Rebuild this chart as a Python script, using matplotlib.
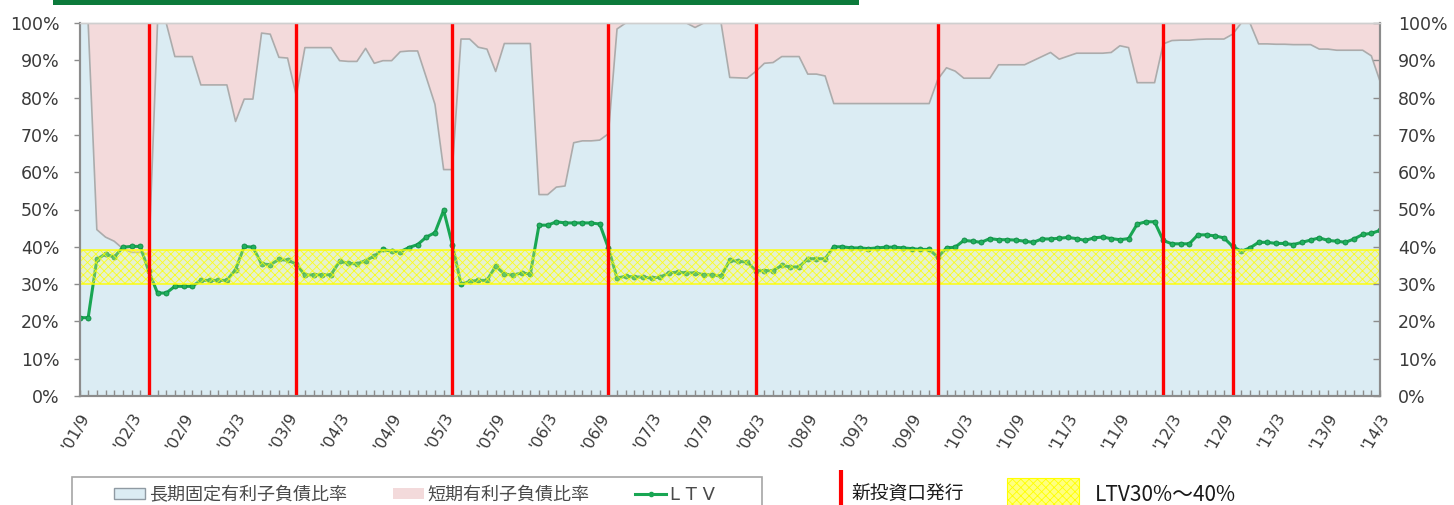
import numpy as np
import matplotlib
matplotlib.use('Agg')
import matplotlib.pyplot as plt
import matplotlib.transforms as mtransforms
from matplotlib.patches import Patch, Rectangle
from matplotlib.lines import Line2D
from matplotlib.ticker import FuncFormatter, MultipleLocator

plt.rcParams['font.family'] = ['DejaVu Sans', 'Noto Sans CJK JP']
plt.rcParams['hatch.linewidth'] = 0.6

# ---- data (monthly, from '01/9 to '14/3) ----
start_year, start_month = 2001, 9

long_ratio = [
    100, 100, 44.6, 42.6, 41.5, 39.5, 38.5, 38.5, 38.0, 100,
    100, 91.0, 91.0, 91.0, 83.4, 83.4, 83.4, 83.4, 73.6, 79.6,
    79.6, 97.3, 97.0, 90.8, 90.6, 80.5, 93.4, 93.4, 93.4, 93.4,
    89.9, 89.7, 89.7, 93.2, 89.2, 89.9, 89.9, 92.3, 92.5, 92.5,
    85.4, 78.2, 60.7, 60.7, 95.7, 95.7, 93.5, 93.0, 87.0, 94.5,
    94.5, 94.5, 94.5, 54.0, 54.0, 56.0, 56.3, 67.9, 68.4, 68.4,
    68.6, 70.3, 98.4, 100, 100, 100, 100, 100, 100, 100,
    100, 98.8, 100, 100, 100, 85.4, 85.3, 85.2, 87.0, 89.2,
    89.4, 91.0, 91.0, 91.0, 86.3, 86.3, 85.8, 78.4, 78.4, 78.4,
    78.4, 78.4, 78.4, 78.4, 78.4, 78.4, 78.4, 78.4, 78.4, 84.9,
    88.0, 87.1, 85.2, 85.2, 85.2, 85.2, 88.8, 88.8, 88.8, 88.8,
    89.9, 91.0, 92.1, 90.3, 91.1, 91.9, 91.9, 91.9, 91.9, 92.1,
    93.9, 93.4, 84.0, 84.0, 84.0, 94.4, 95.3, 95.4, 95.4, 95.6,
    95.7, 95.7, 95.7, 97.0, 100, 100, 94.4, 94.4, 94.3, 94.3,
    94.2, 94.2, 94.2, 93.0, 93.0, 92.7, 92.7, 92.7, 92.7, 91.2,
    84.4,
]

ltv = [
    21.0, 21.0, 36.6, 38.1, 37.2, 39.9, 40.1, 40.1, 33.4, 27.6,
    27.6, 29.4, 29.4, 29.4, 31.0, 31.0, 31.0, 31.0, 33.9, 40.1,
    39.9, 35.4, 35.2, 36.6, 36.4, 35.4, 32.4, 32.5, 32.5, 32.5,
    36.1, 35.6, 35.4, 36.3, 37.5, 39.3, 38.8, 38.7, 39.8, 40.6,
    42.6, 43.8, 49.8, 40.6, 30.0, 30.7, 31.0, 31.0, 34.8, 32.7,
    32.4, 33.0, 32.7, 45.8, 45.8, 46.7, 46.4, 46.4, 46.4, 46.4,
    46.1, 39.7, 31.6, 32.1, 31.9, 31.9, 31.6, 31.9, 33.0, 33.2,
    33.0, 33.0, 32.5, 32.5, 32.1, 36.4, 36.1, 35.9, 33.6, 33.6,
    33.6, 35.0, 34.6, 34.6, 36.8, 36.8, 36.8, 40.0, 40.0, 39.7,
    39.7, 39.5, 39.7, 39.9, 39.9, 39.7, 39.5, 39.3, 39.3, 37.2,
    39.7, 39.9, 41.7, 41.5, 41.2, 42.2, 41.9, 41.9, 41.8, 41.5,
    41.2, 42.1, 42.1, 42.3, 42.5, 42.2, 41.7, 42.4, 42.6, 42.2,
    41.9, 42.2, 46.1, 46.7, 46.7, 41.7, 40.8, 40.8, 40.8, 43.2,
    43.2, 42.9, 42.4, 40.1, 38.8, 39.7, 41.2, 41.2, 40.9, 40.9,
    40.6, 41.2, 41.8, 42.4, 41.7, 41.5, 41.2, 42.1, 43.3, 43.6,
    44.4,
]

tick_labels = ["'01/9", "'02/3", "'02/9", "'03/3", "'03/9", "'04/3", "'04/9",
               "'05/3", "'05/9", "'06/3", "'06/9", "'07/3", "'07/9", "'08/3",
               "'08/9", "'09/3", "'09/9", "'10/3", "'10/9", "'11/3", "'11/9",
               "'12/3", "'12/9", "'13/3", "'13/9", "'14/3"]

issuance_dates = ['2002-05', '2003-10', '2005-04', '2006-10',
                  '2008-03', '2009-12', '2012-02', '2012-10']

ltv_band = [30, 39.2]

series_labels = ['長期固定有利子負債比率', '短期有利子負債比率', 'L T V']
issue_label = '新投資口発行'
band_label = 'LTV30%～40%'

assert len(long_ratio) == len(ltv) == 151


def month_index(s):
    y, m = map(int, s.split('-'))
    return (y - start_year) * 12 + (m - start_month)


# ---- figure ----
W, H = 1454, 505
fig = plt.figure(figsize=(W / 100, H / 100), dpi=100)
fig.patch.set_facecolor('white')
ax = fig.add_axes([79.5 / W, 1 - 396 / H, (1380 - 79.5) / W, (396 - 23) / H])

x = np.arange(len(ltv))
long_arr = np.array(long_ratio)

c_blue = '#dbecf3'
c_pink = '#f3dadb'
c_green = '#19a653'

ax.fill_between(x, 0, long_arr, color=c_blue, lw=0, zorder=1)
ax.fill_between(x, long_arr, 100, color=c_pink, lw=0, zorder=1)
ax.plot(x, long_arr, color='#ababab', lw=1.2, zorder=2)
ax.plot(x, ltv, color=c_green, lw=2.2, marker='o', ms=3.6,
        mfc='#22b060', mec='#0f8a42', mew=0.6, zorder=3)
ax.axhspan(ltv_band[0], ltv_band[1], facecolor=(1, 1, 0.5, 0.30),
           edgecolor=(1, 1, 0, 0.85), hatch='xxxx', lw=1.2, zorder=4)
for s in issuance_dates:
    ax.axvline(month_index(s), color='#ff0000', lw=2.4, zorder=5)

ax.set_xlim(0, len(ltv) - 1)
ax.set_ylim(0, 100)

# x axis
ax.set_xticks(x[::6])
ax.set_xticklabels(tick_labels, rotation=60, ha='right', va='center',
                   rotation_mode='anchor', fontsize=11.5, color='#3a3a3a')
ax.xaxis.set_minor_locator(MultipleLocator(1))
ax.tick_params(axis='x', which='both', direction='in', length=4,
               width=1, color='#8c8c8c', pad=13)
shift = mtransforms.ScaledTranslation(6 / 100, 0, fig.dpi_scale_trans)
for lbl in ax.get_xticklabels():
    lbl.set_transform(lbl.get_transform() + shift)

# y axis left
pct = FuncFormatter(lambda v, p: f'{v:.0f}%')
ax.set_yticks(range(0, 101, 10))
ax.yaxis.set_major_formatter(pct)
ax.tick_params(axis='y', direction='out', length=4, width=1,
               color='#8c8c8c', labelsize=12.5, labelcolor='#3a3a3a', pad=10.4)

# y axis right
ax2 = ax.twinx()
ax2.set_ylim(0, 100)
ax2.set_yticks(range(0, 101, 10))
ax2.yaxis.set_major_formatter(pct)
ax2.tick_params(axis='y', direction='in', length=5, width=1,
                color='#8c8c8c', labelsize=12.5, labelcolor='#3a3a3a', pad=13)

for a in (ax, ax2):
    for side in ('left', 'right', 'bottom'):
        a.spines[side].set_color('#8c8c8c')
        a.spines[side].set_linewidth(1.5)
    a.spines['top'].set_color('#cfcfcf')
    a.spines['top'].set_linewidth(1.0)

# header bar (decoration)
fig.add_artist(Rectangle((53 / W, 1 - 4.5 / H), (859 - 53) / W, 4.5 / H,
                         transform=fig.transFigure, color='#0c7a3b', lw=0))

# legend 1 (framed)
handles1 = [Patch(facecolor=c_blue, edgecolor='#8f9aa3', lw=1),
            Patch(facecolor=c_pink, edgecolor='none'),
            Line2D([], [], color=c_green, lw=2.2, marker='o', ms=3)]
fig.legend(handles1, series_labels, loc='center left',
           bbox_to_anchor=(114 / W, 1 - 495 / H), ncol=3, frameon=False,
           fontsize=13, handlelength=1.72, handleheight=0.6,
           handletextpad=0.2, columnspacing=2.55, borderpad=0,
           borderaxespad=0, labelcolor='#4a4a4a')
fig.add_artist(Rectangle((71.5 / W, 1 - 515 / H), (762 - 71.5) / W,
                         (515 - 477) / H, transform=fig.transFigure,
                         fill=False, ec='#a6a6a6', lw=1.2))

# legend 2 (issuance)
cjk = {'family': ['Noto Sans CJK JP', 'DejaVu Sans'], 'size': 13.5}
fig.legend([Line2D([], [], color='#ff0000', marker='|', ls='none', ms=32, mew=3)],
           [issue_label], loc='center left',
           bbox_to_anchor=(836 / W, 1 - 493 / H), frameon=False, prop=cjk,
           handlelength=0.5, handletextpad=0.35, borderpad=0,
           borderaxespad=0, labelcolor='#1a1a1a')

# legend 3 (LTV band)
cjk2 = {'family': ['Noto Sans CJK JP', 'DejaVu Sans'], 'size': 15}
fig.legend([Patch(facecolor='#ffff80', edgecolor='#ffff00', hatch='xxxx', lw=0.8)],
           [band_label], loc='center left',
           bbox_to_anchor=(1007 / W, 1 - 494 / H), frameon=False, prop=cjk2,
           handlelength=3.45, handleheight=2.0, handletextpad=0.75,
           borderpad=0, borderaxespad=0, labelcolor='#1a1a1a')

fig.savefig('out.png', dpi=100)
